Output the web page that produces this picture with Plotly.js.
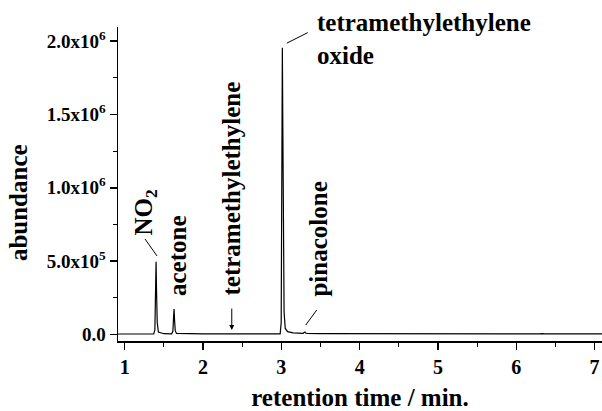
<!DOCTYPE html>
<html>
<head>
<meta charset="utf-8">
<script src="https://cdn.plot.ly/plotly-3.0.1.min.js"></script>
<style>html,body{margin:0;padding:0;background:#fff;}#chart{width:602px;height:411px;}</style>
</head>
<body>
<div id="chart"></div>
<script>
// retention time (min)
var retentionTime = [0.914, 1.0, 1.2, 1.37, 1.385, 1.392, 1.396, 1.400, 1.406, 1.415, 1.43, 1.5,
  1.60, 1.615, 1.624, 1.630, 1.636, 1.645, 1.66, 1.8, 2.0, 2.34, 2.5, 2.8,
  2.985, 2.998, 3.005, 3.010, 3.013, 3.018, 3.025, 3.035, 3.05, 3.08, 3.15,
  3.28, 3.292, 3.300, 3.31, 3.33, 3.5, 4.0, 4.17, 4.20, 4.23, 5.0, 6.0, 6.30, 6.33, 6.36, 7.095];
// abundance
var abundance = [2000, 2000, 2000, 2500, 30000, 200000, 420000, 495000, 300000, 80000, 15000, 4000,
  3000, 20000, 120000, 172000, 100000, 25000, 6000, 3000, 2500, 2500, 2500, 2500,
  3000, 80000, 900000, 1800000, 1955000, 1500000, 600000, 150000, 40000, 18000, 10000,
  7000, 13000, 16000, 9000, 6000, 4000, 3000, 3000, 5500, 3000, 2500, 2500, 2500, 4000, 2500, 2500];

var yTickVals = [0, 500000, 1000000, 1500000, 2000000];
var yTickText = ['0.0', '5.0x10<sup>5</sup>', '1.0x10<sup>6</sup>', '1.5x10<sup>6</sup>', '2.0x10<sup>6</sup>'];
var xTickVals = [1, 2, 3, 4, 5, 6, 7];
var xTickText = ['1', '2', '3', '4', '5', '6', '7'];

var serif = 'Liberation Serif, Times New Roman, serif';

var trace = {
  x: retentionTime, y: abundance, type: 'scatter', mode: 'lines',
  line: {color: '#000', width: 1.2}, hoverinfo: 'skip'
};

var labelFont = {family: serif, size: 25, color: '#000', weight: 'bold'};

var layout = {
  width: 602, height: 411,
  margin: {l: 118, r: 0, t: 27, b: 70},
  paper_bgcolor: '#fff', plot_bgcolor: '#fff',
  showlegend: false,
  font: {family: serif, size: 20, color: '#000', weight: 'bold'},
  xaxis: {
    range: [0.914, 7.095], showgrid: false, zeroline: false,
    showline: true, linecolor: '#000', linewidth: 1.5,
    ticks: 'outside', ticklen: 7, tickwidth: 1.5, tickcolor: '#000',
    tickmode: 'array', tickvals: xTickVals, ticktext: xTickText,
    tickfont: {family: serif, size: 20, color: '#000', weight: 'bold'},
    minor: {dtick: 0.5, tick0: 0, ticks: 'outside', ticklen: 4, tickwidth: 1.2, tickcolor: '#000', showgrid: false},
    title: {text: 'retention time / min.', font: {family: serif, size: 25, color: '#000', weight: 'bold'}, standoff: 13}
  },
  yaxis: {
    range: [-45700, 2097000], showgrid: false, zeroline: false,
    showline: true, linecolor: '#000', linewidth: 1.5,
    ticks: 'outside', ticklen: 7, tickwidth: 1.5, tickcolor: '#000',
    tickmode: 'array', tickvals: yTickVals, ticktext: yTickText,
    tickfont: {family: serif, size: 19, color: '#000', weight: 'bold'},
    minor: {dtick: 250000, tick0: 0, ticks: 'outside', ticklen: 4, tickwidth: 1.2, tickcolor: '#000', showgrid: false},
    title: {text: 'abundance&nbsp;&nbsp;&nbsp;&nbsp;&nbsp;&nbsp;', font: {family: serif, size: 25, color: '#000', weight: 'bold'}, standoff: 12}
  },
  annotations: [
    {x: 1.259, y: 831400, xref: 'x', yref: 'y', text: 'NO<sub>2</sub>', textangle: -90, showarrow: false, font: labelFont},
    {x: 1.681, y: 534500, xref: 'x', yref: 'y', text: 'acetone', textangle: -90, showarrow: false, font: labelFont},
    {x: 2.358, y: 995200, xref: 'x', yref: 'y', text: 'tetramethylethylene', textangle: -90, showarrow: false, font: labelFont},
    {x: 3.469, y: 647100, xref: 'x', yref: 'y', text: 'pinacolone', textangle: -90, showarrow: false, font: labelFont},
    {x: 3.430, y: 2013000, xref: 'x', yref: 'y', text: 'tetramethylethylene<br>oxide', xanchor: 'left', yanchor: 'middle', align: 'left', showarrow: false, font: labelFont},
    {x: 2.367, y: 29000, xref: 'x', yref: 'y', ax: 2.367, ay: 186000, axref: 'x', ayref: 'y', text: '', showarrow: true, arrowhead: 2, arrowsize: 1, arrowwidth: 1, arrowcolor: '#000'}
  ],
  shapes: [
    {type: 'line', xref: 'x', yref: 'y', x0: 1.259, y0: 650500, x1: 1.412, y1: 534500, line: {color: '#000', width: 1}},
    {type: 'line', xref: 'x', yref: 'y', x0: 3.069, y0: 1986400, x1: 3.337, y1: 2058700, line: {color: '#000', width: 1}},
    {type: 'line', xref: 'x', yref: 'y', x0: 3.312, y0: 63500, x1: 3.452, y1: 165900, line: {color: '#000', width: 1}}
  ]
};

Plotly.newPlot('chart', [trace], layout, {displayModeBar: false, staticPlot: true});
</script>
</body>
</html>
